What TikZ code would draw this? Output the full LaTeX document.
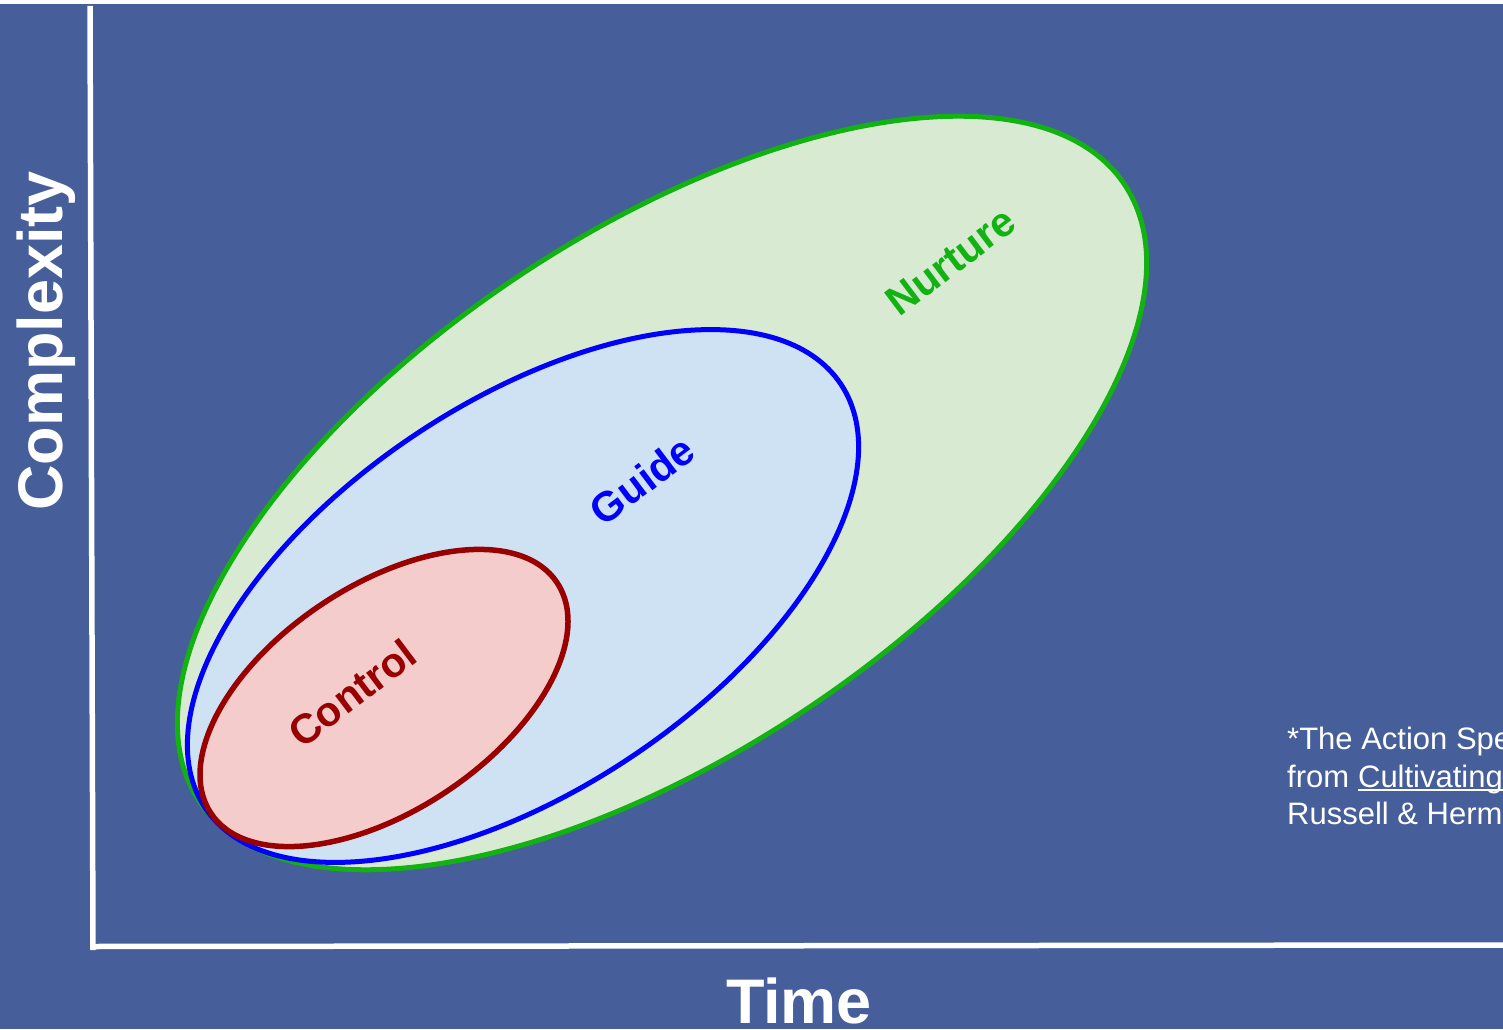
\documentclass[tikz,border=0pt]{standalone}
\usepackage{fontspec}
\setmainfont{Liberation Sans}
\usetikzlibrary{shapes.geometric}
\definecolor{slideblue}{RGB}{70,94,154}
\definecolor{nurturegreen}{RGB}{17,178,17}
\definecolor{nurturefill}{RGB}{217,234,211}
\definecolor{guideblue}{RGB}{0,0,255}
\definecolor{guidefill}{RGB}{207,226,243}
\definecolor{controlred}{RGB}{153,0,0}
\definecolor{controlfill}{RGB}{244,204,204}

\begin{document}
\begin{tikzpicture}[x=1pt, y=1pt,
        zone/.style={ellipse, draw, inner sep=0pt, outer sep=0pt, rotate=33.7, line width=5pt},
        zlabel/.style={font=\fontsize{41.5}{48}\selectfont\bfseries, rotate=37, inner sep=0pt},
        axislabel/.style={text=white, inner sep=0pt, font=\fontsize{63}{70}\selectfont\bfseries},
        axisline/.style={white, line width=5.5pt},
        note/.style={anchor=base west, inner sep=0pt, text=white, font=\fontsize{31}{37}\selectfont}
    ]
    \useasboundingbox (0,0) rectangle (1503,1029);
    \clip (0,0) rectangle (1503,1029);
    \fill[white] (0,0) rectangle (1503,1029);
    \fill[slideblue] (0,0) rectangle (1503,1025);

    \coordinate (ytop) at (90,1023);
    \coordinate (orig) at (93,79);
    \coordinate (xstart) at (93,82.5);
    \coordinate (xend) at (1503,84);
    \draw[axisline] (ytop) -- (orig);
    \draw[axisline] (xstart) -- (xend);

    \node[zone, draw=nurturegreen, fill=nurturefill, minimum width=1112pt, minimum height=520pt] (nurture) at (662,536) {};
    \node[zone, draw=guideblue, fill=guidefill, minimum width=764pt, minimum height=388pt] (guide) at (523,433) {};
    \node[zone, draw=controlred, fill=controlfill, minimum width=416pt, minimum height=225pt, line width=5.5pt] (control) at (384,331) {};

    \node[zlabel, text=nurturegreen] (nurturelbl) at (951,768) {Nurture};
    \node[zlabel, text=guideblue] (guidelbl) at (642,549) {Guide};
    \node[zlabel, text=controlred] (controllbl) at (352,336) {Control};

    \node[axislabel, anchor=base, rotate=90] (complexity) at (62,688) {Complexity};
    \node[axislabel, anchor=base] (time) at (799,6) {Time};

    \node[note] (note1) at (1287,280) {*The Action Spe};
    \node[note] (note2) at (1287,242) {from};
    \node[note] (cultivating) at ([xshift=8.5pt]note2.base east) {Cultivating};
    \draw[white, line width=2pt] ([yshift=-3pt]cultivating.base west) -- ([yshift=-3pt]cultivating.base east);
    \node[note] (note3) at (1287,205) {Russell \& Herm};
\end{tikzpicture}
\end{document}
